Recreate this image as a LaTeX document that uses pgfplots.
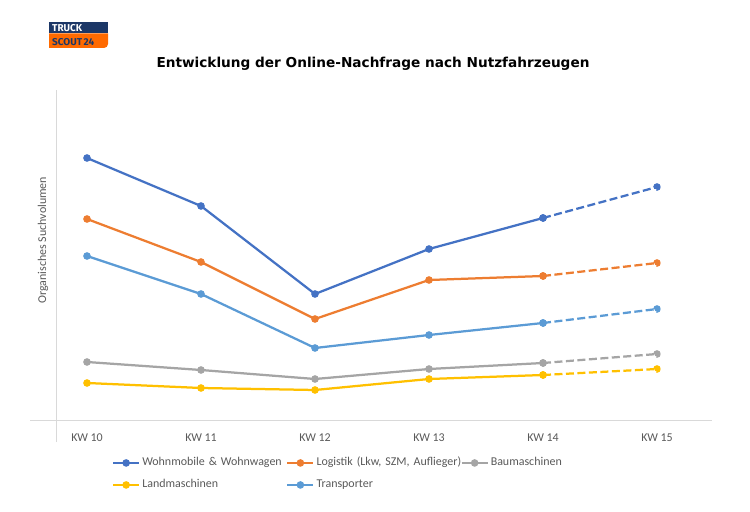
\documentclass[border=0pt]{standalone}
\usepackage{pgfplots}
\pgfplotsset{compat=1.18}
\usepackage{fontspec}
\setmainfont{Carlito}
\newfontfamily\titlefont{DejaVu Sans}
\newfontfamily\logofont{Fira Sans}
\definecolor{cWohn}{HTML}{4472C4}
\definecolor{cLog}{HTML}{ED7D31}
\definecolor{cBau}{HTML}{A5A5A5}
\definecolor{cLand}{HTML}{FFC000}
\definecolor{cTrans}{HTML}{5B9BD5}
\definecolor{txtgray}{HTML}{595959}
\definecolor{linegray}{HTML}{D9D9D9}
\definecolor{logonavy}{HTML}{1C3767}
\definecolor{logoorange}{HTML}{FF6A00}
\begin{document}
\begin{tikzpicture}
\path[use as bounding box] (0bp,0bp) rectangle (750bp,512bp);
% logo
\fill[logonavy] (49bp,478.5bp) rectangle (108bp,490bp);
\fill[logoorange] (49bp,478.5bp) -- (108bp,478.5bp) [rounded corners=4bp] -- (108bp,464bp) [sharp corners] -- (49bp,464bp) -- cycle;
\node[anchor=base west, text=white, font=\logofont\bfseries\fontsize{10}{10}\selectfont, inner sep=0pt] at (52bp,480.7bp) {TRUCK};
\node[anchor=base west, text=logonavy, font=\logofont\bfseries\fontsize{10}{10}\selectfont, inner sep=0pt] at (52bp,466bp) {SCOUT\kern1.5bp 24};
% title
\node[anchor=base, font=\titlefont\bfseries\fontsize{13.7}{15}\selectfont, inner sep=0pt] at (373bp,444bp) {Entwicklung der Online-Nachfrage nach Nutzfahrzeugen};
\begin{axis}[
  at={(30bp,92bp)}, anchor=south west,
  scale only axis, width=684bp, height=330bp,
  xmin=-0.5, xmax=5.5, ymin=0, ymax=330,
  axis line style={draw=none},
  clip=false,
  ytick=\empty,
  xtick={0,1,2,3,4,5},
  xticklabels={KW 10,KW 11,KW 12,KW 13,KW 14,KW 15},
  major tick length=0pt,
  xticklabel style={anchor=base, yshift=-21bp, font=\fontsize{12}{14}\selectfont, text=txtgray},
  ylabel={Organisches Suchvolumen},
  ylabel style={at={(axis description cs:0.019,0.545)}, anchor=center, font=\fontsize{12}{14}\selectfont, text=txtgray},
  every axis plot/.append style={line width=2.25bp, mark=*, mark size=2.6bp},
  legend columns=3,
  legend cell align=left,
  legend style={draw=none, fill=none, inner sep=0pt, outer sep=0pt, anchor=north west,
    at={(0.1199,-0.1135)},
    font=\fontsize{12}{14}\selectfont, text=txtgray,
    nodes={inner sep=0pt, text width=144bp, align=left, text height=8.5bp, text depth=2.5bp},
    /tikz/every odd column/.append style={column sep=2bp},
    /tikz/every even column/.append style={column sep=0pt},
    row sep=11bp},
  legend image code/.code={\draw[mark repeat=2,mark phase=2,#1] plot coordinates {(0bp,0bp) (13bp,0bp) (26bp,0bp)};},
]
\draw[linegray, line width=0.75bp] (axis cs:-0.5,0) -- (axis cs:5.48,0);
\draw[linegray, line width=0.75bp] (axis cs:-0.272,-22) -- (axis cs:-0.272,330);
% Wohnmobile
\addplot[cWohn] coordinates {(0,262) (1,214) (2,126) (3,171) (4,202)};
\addlegendentry{\mbox{Wohnmobile \& Wohnwagen}}
\addplot[cWohn, dash pattern=on 8bp off 3.5bp, forget plot] coordinates {(4,202) (5,233)};
% Logistik
\addplot[cLog] coordinates {(0,201) (1,158) (2,101) (3,140) (4,144)};
\addlegendentry{\mbox{Logistik (Lkw, SZM, Auflieger)}}
\addplot[cLog, dash pattern=on 8bp off 3.5bp, forget plot] coordinates {(4,144) (5,157)};
% Baumaschinen
\addplot[cBau] coordinates {(0,58) (1,50) (2,41) (3,51) (4,57)};
\addlegendentry{\mbox{Baumaschinen}}
\addplot[cBau, dash pattern=on 8bp off 3.5bp, forget plot] coordinates {(4,57) (5,66)};
% Landmaschinen
\addplot[cLand] coordinates {(0,37) (1,32) (2,30) (3,41) (4,45)};
\addlegendentry{\mbox{Landmaschinen}}
\addplot[cLand, dash pattern=on 8bp off 3.5bp, forget plot] coordinates {(4,45) (5,51)};
% Transporter
\addplot[cTrans] coordinates {(0,164) (1,126) (2,72) (3,85) (4,97)};
\addlegendentry{\mbox{Transporter}}
\addplot[cTrans, dash pattern=on 8bp off 3.5bp, forget plot] coordinates {(4,97) (5,111)};
\end{axis}
\end{tikzpicture}
\end{document}
